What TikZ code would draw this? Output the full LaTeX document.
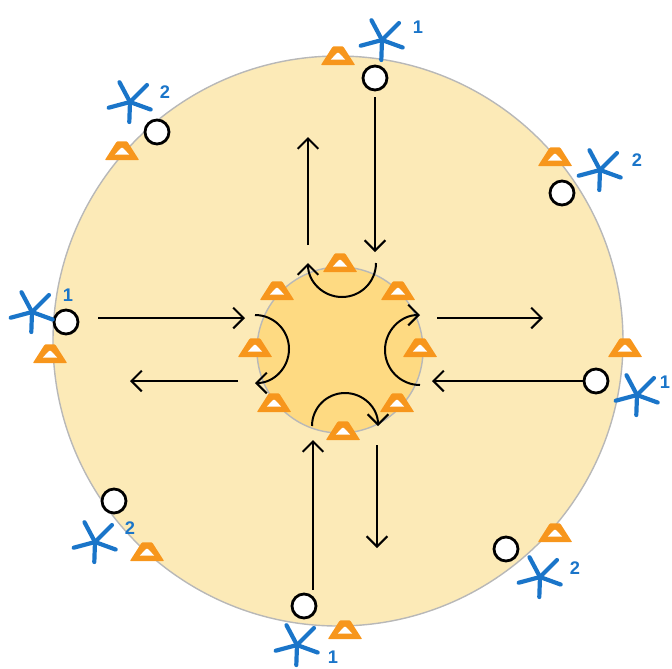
\documentclass[tikz,border=0pt]{standalone}
\usepackage{fontspec}
\setmainfont{Liberation Sans}
\usetikzlibrary{arrows.meta}
\definecolor{ringfill}{HTML}{FCEAB7}
\definecolor{corefill}{HTML}{FEDA82}
\definecolor{rimgray}{HTML}{B8B8B8}
\definecolor{warnorange}{HTML}{F7961C}
\definecolor{starblue}{HTML}{1A75C9}

\tikzset{
  warnsign/.pic={
    \fill[warnorange, rounded corners=0.6pt]
      (-4.3mm,-2.3mm) -- (4.3mm,-2.3mm) -- (1.3mm,2.4mm) -- (-1.3mm,2.4mm) -- cycle;
    \fill[white] (-1.8mm,-0.9mm) -- (1.8mm,-0.9mm) -- (0.2mm,0.8mm) -- (-0.2mm,0.8mm) -- cycle;
  },
  asterisk/.pic={
    \foreach \a/\l in {118/5.6,45/6,195/5.5,-20/5.5,268/5}
      \draw[starblue, line width=1.05mm, line cap=round] (0,0) -- (\a:\l mm);
  }
}

\begin{document}
\begin{tikzpicture}[x=0.25mm, y=0.25mm,
  spot/.style={circle, draw=black, fill=white, line width=0.7mm,
               minimum size=6mm, inner sep=0pt},
  num/.style={text=starblue, inner sep=0pt,
              font=\bfseries\fontsize{13}{13}\selectfont},
  flow/.style={draw=black, line width=0.5mm,
               -{Straight Barb[length=2.6mm,width=5.2mm]}}
]
\useasboundingbox (0,0) rectangle (672,-668);
\clip (0,0) rectangle (672,-668);

%% Field and core
\draw[rimgray, line width=0.35mm, fill=ringfill] (338,-341) circle[radius=285];
\draw[rimgray, line width=0.35mm, fill=corefill] (340,-350) circle[radius=83];

%% Arrow ends
\coordinate (tl0) at (308,-245);  \coordinate (tl1) at (308,-137);
\coordinate (tr0) at (375,-97);   \coordinate (tr1) at (375,-252);
\coordinate (lt0) at (98,-318);   \coordinate (lt1) at (245,-318);
\coordinate (lb0) at (238,-381);  \coordinate (lb1) at (130,-381);
\coordinate (rt0) at (437,-318);  \coordinate (rt1) at (543,-318);
\coordinate (rb0) at (585,-381);  \coordinate (rb1) at (432,-381);
\coordinate (bl0) at (313,-590);  \coordinate (bl1) at (313,-440);
\coordinate (br0) at (377,-445);  \coordinate (br1) at (377,-548);

%% Straight arrows
\foreach \a in {tl,tr,lt,lb,rt,rb,bl,br}
  \draw[flow] (\a0) -- (\a1);

%% Turning arrows in the core
\coordinate (ct) at (376,-263);
\coordinate (cl) at (255,-315);
\coordinate (cr) at (420,-385);
\coordinate (cb) at (312,-426);
\draw[flow] (ct) arc[start angle=0, end angle=-180, radius=34];
\draw[flow] (cl) arc[start angle=90, end angle=-90, radius=34];
\draw[flow] (cr) arc[start angle=270, end angle=90, radius=35];
\draw[flow] (cb) arc[start angle=180, end angle=0, radius=33];

%% Warning signs
\foreach \n/\x/\y in {1/338/56, 2/122/151, 3/555/157, 4/50/354,
                      5/625/348, 6/147/552, 7/555/533, 8/345/630,
                      9/340/263, 10/277/291, 11/398/291, 12/255/348,
                      13/420/348, 14/274/403, 15/397/403, 16/343/431}
  \pic (w\n) at (\x,-\y) {warnsign};

%% Spots on the rim
\foreach \n/\x/\y in {1/375/78, 2/157/132, 3/562/193, 4/66/322,
                      5/596/381, 6/114/501, 7/506/549, 8/304/606}
  \node[spot] (c\n) at (\x,-\y) {};

%% Asterisks and their numbers
\foreach \n/\x/\y/\lx/\ly/\t in {1/382/40/418/27/1, 2/130/102/165/92/2,
                                 3/600/170/637/160/2, 4/32/312/68/295/1,
                                 5/637/395/665/382/1, 6/95/542/130/528/2,
                                 7/540/577/575/568/2, 8/297/645/333/657/1}{
  \pic (s\n) at (\x,-\y) {asterisk};
  \node[num] (n\n) at (\lx,-\ly) {\t};
}

\end{tikzpicture}
\end{document}
